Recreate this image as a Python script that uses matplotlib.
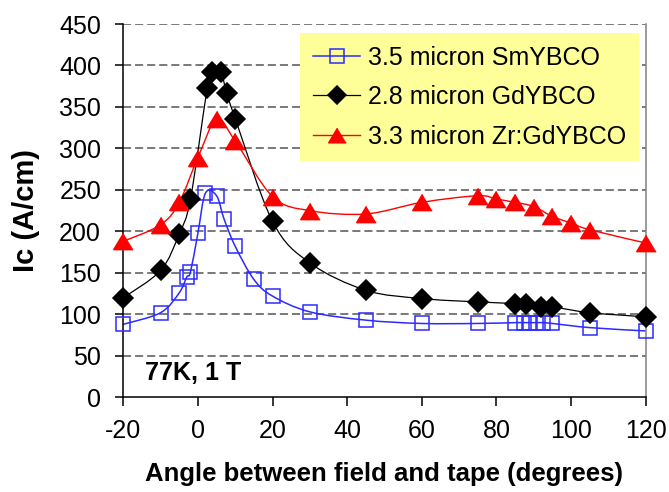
import numpy as np
import matplotlib
matplotlib.use("Agg")
import matplotlib.pyplot as plt
from matplotlib.path import Path
from matplotlib.patches import PathPatch

plt.rcParams['font.family'] = ['Liberation Sans', 'DejaVu Sans']
plt.rcParams['axes.unicode_minus'] = False

# SmYBCO, 3.5 micron
sm_angle = [-20, -10, -5, -3, -2, 0, 2, 5, 7, 10, 15, 20, 30, 45, 60, 75, 85, 87.5, 89, 90.5, 92.5, 95, 105, 120]
sm_ic = [88, 102, 126, 145, 151, 198, 246, 243, 215, 182, 142, 122, 103, 93, 89, 89, 90, 90, 90, 90, 90, 89, 84, 80]

# GdYBCO, 2.8 micron
gd_angle = [-20, -10, -5, -2, 2.5, 3.7, 6.1, 7.7, 10, 20, 30, 45, 60, 75, 85, 88, 92, 95, 105, 120]
gd_ic = [120, 153, 197, 239, 373, 392, 392, 367, 336, 212, 162, 129, 119, 115, 113, 112, 109, 109, 102, 97]

# Zr:GdYBCO, 3.3 micron
zr_angle = [-20, -10, -5, 0, 5, 10, 20, 30, 45, 60, 75, 80, 85, 90, 95, 100, 105, 120]
zr_ic = [188, 208, 235, 289, 335, 309, 242, 225, 221, 235, 243, 239, 235, 230, 218, 210, 202, 186]

x_ticks = [-20, 0, 20, 40, 60, 80, 100, 120]
y_ticks = [0, 50, 100, 150, 200, 250, 300, 350, 400, 450]


def smooth_path(xs, ys):
    # Excel-style smoothed line: cubic Bezier through every point
    p = np.column_stack([xs, ys]).astype(float)
    n = len(p)
    verts = [p[0]]
    codes = [Path.MOVETO]
    for i in range(n - 1):
        p0 = p[i - 1] if i > 0 else p[i]
        p3 = p[i + 2] if i + 2 < n else p[i + 1]
        c1 = p[i] + (p[i + 1] - p0) / 6.0
        c2 = p[i + 1] - (p3 - p[i]) / 6.0
        verts += [c1, c2, p[i + 1]]
        codes += [Path.CURVE4] * 3
    return Path(verts, codes)


fig = plt.figure(figsize=(6.69, 4.92), dpi=100)
ax = fig.add_axes([0.1843, 0.1925, 0.7808, 0.7587])

ax.set_xlim(-20, 120)
ax.set_ylim(0, 450)

for yv in y_ticks[1:]:
    ax.axhline(yv, color='#555555', lw=1.1, ls=(0, (5.3, 2.6)), zorder=1)

tri = [(0, 1), (-1.2, -1), (1.2, -1)]
series = [
    (sm_angle, sm_ic, '#2b2bff', 's', 10.5, 'none', 1.1, '3.5 micron SmYBCO'),
    (gd_angle, gd_ic, 'black', 'D', 10.5, 'black', 0.9, '2.8 micron GdYBCO'),
    (zr_angle, zr_ic, '#ff0000', tri, 14, '#ff0000', 1.0, '3.3 micron Zr:GdYBCO'),
]
handles = []
for xs, ys, col, mk, ms, fc, lw, lab in series:
    ax.add_patch(PathPatch(smooth_path(xs, ys), fill=False, edgecolor=col, lw=lw, zorder=2))
    ax.plot(xs, ys, ls='none', marker=mk, ms=ms, mfc=fc, mec=col, mew=1.1, zorder=3, clip_on=False)
    h, = ax.plot([], [], color=col, lw=lw, marker=mk, ms=ms * 0.9, mfc=fc, mec=col, mew=1.1, label=lab)
    handles.append(h)

ax.set_xticks(x_ticks)
ax.set_yticks(y_ticks)
ax.tick_params(axis='x', direction='out', length=6.5, width=1.1, pad=9, labelsize=18)
ax.tick_params(axis='y', direction='out', length=6, width=1.1, pad=10, labelsize=18)

ax.spines['top'].set_visible(False)
ax.spines['right'].set_color('#808080')
for s in ['left', 'bottom', 'right']:
    ax.spines[s].set_linewidth(1.1)

ax.set_xlabel('Angle between field and tape (degrees)', fontsize=18.5, fontweight='bold', labelpad=14)
ax.set_ylabel('Ic (A/cm)', fontsize=21, fontweight='bold', labelpad=14)

ax.text(0.0415, 0.065, '77K, 1 T', transform=ax.transAxes, fontsize=18, fontweight='bold', va='center', ha='left')

leg = ax.legend(handles=handles, loc='upper right', bbox_to_anchor=(639 / 669, 1 - 33 / 492),
                bbox_transform=fig.transFigure, borderaxespad=0, fontsize=18, frameon=True,
                fancybox=False, facecolor='#ffff99', edgecolor='none', framealpha=1,
                handlelength=1.9, handletextpad=0.32, labelspacing=0.62, borderpad=0.5)
leg.set_zorder(5)

fig.savefig('out.png', dpi=100)
